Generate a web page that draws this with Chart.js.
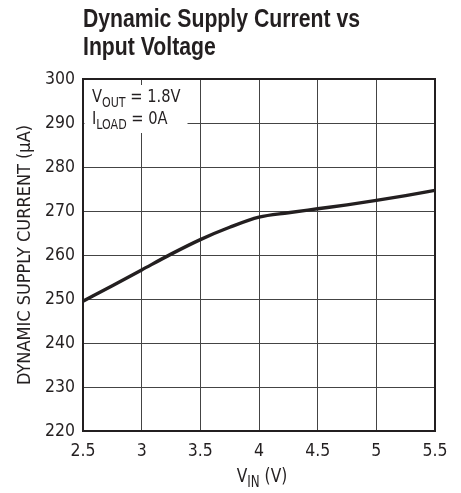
<!DOCTYPE html>
<html><head><meta charset="utf-8">
<script src="https://cdn.jsdelivr.net/npm/chart.js@4.4.1/dist/chart.umd.min.js"></script>
<style>html,body{margin:0;padding:0;background:#fff}#wrap{width:461px;height:493px;position:relative}</style>
</head><body><div id="wrap"><canvas id="c" width="461" height="493"></canvas></div>
<script>
const titleLines = ["Dynamic Supply Current vs", "Input Voltage"];
const xValues = [2.5, 2.75, 3.0, 3.25, 3.5, 3.75, 4.0, 4.25, 4.5, 4.75, 5.0, 5.25, 5.5];
const currentUA = [249.5, 253.0, 256.6, 260.2, 263.5, 266.3, 268.6, 269.6, 270.5, 271.4, 272.4, 273.5, 274.7];
const xTickLabels = ["2.5", "3", "3.5", "4", "4.5", "5", "5.5"];
const yTickLabels = ["220", "230", "240", "250", "260", "270", "280", "290", "300"];
const yTitle = "DYNAMIC SUPPLY CURRENT (\u03bcA)";
const noteLines = [["V", "OUT", " = 1.8V"], ["I", "LOAD", " = 0A"]];
const xTitleParts = ["V", "IN", " (V)"];

const FONT = '"DejaVu Sans Condensed", "Liberation Sans Narrow", "Roboto", sans-serif';
const TFONT = '"Liberation Sans", Arial, sans-serif';
const L = 83, R = 435, T = 79, B = 431, W = 461, H = 493;

function drawSub(ctx, x, y, parts, size, align, sxScale) {
  ctx.save();
  const big = size + 'px ' + FONT, small = Math.round(size * 0.75) + 'px ' + FONT;
  ctx.font = big; const w0 = ctx.measureText(parts[0]).width, w2 = ctx.measureText(parts[2]).width;
  ctx.font = small; const w1 = ctx.measureText(parts[1]).width;
  const tot = w0 + w1 + w2;
  let sx = align === 'center' ? x - tot * sxScale / 2 : x;
  ctx.translate(sx, y); ctx.scale(sxScale, 1);
  ctx.textAlign = 'left'; ctx.textBaseline = 'alphabetic'; ctx.fillStyle = '#231f20';
  ctx.font = big; ctx.fillText(parts[0], 0, 0);
  ctx.font = small; ctx.fillText(parts[1], w0, size * 0.25);
  ctx.font = big; ctx.fillText(parts[2], w0 + w1, 0);
  ctx.restore();
}

const extras = {
  id: 'extras',
  beforeDatasetsDraw(chart) {
    const ctx = chart.ctx;
    ctx.save();
    ctx.fillStyle = '#fff';
    ctx.fillRect(L + 1.5, T + 6, 103, 48);
    ctx.restore();
    drawSub(ctx, 92, 102, noteLines[0], 18.5, 'left', 0.88);
    drawSub(ctx, 92, 124, noteLines[1], 18.5, 'left', 0.88);
  },
  afterDraw(chart) {
    const ctx = chart.ctx;
    ctx.save();
    ctx.fillStyle = '#231f20';
    ctx.textAlign = 'left'; ctx.textBaseline = 'alphabetic';
    ctx.font = 'bold 26.5px ' + TFONT;
    const tw = ctx.measureText(titleLines[0]).width;
    const k = 277 / tw;
    ctx.save(); ctx.translate(83, 27); ctx.scale(k, 1); ctx.fillText(titleLines[0], 0, 0); ctx.restore();
    ctx.save(); ctx.translate(83, 55); ctx.scale(k, 1); ctx.fillText(titleLines[1], 0, 0); ctx.restore();
    ctx.restore();
    drawSub(ctx, (L + R) / 2 + 3, 482, xTitleParts, 19.5, 'center', 0.88);
  }
};

new Chart(document.getElementById('c'), {
  type: 'line',
  data: {
    datasets: [{
      data: xValues.map((x, i) => ({ x: x, y: currentUA[i] })),
      borderColor: '#231f20', borderWidth: 3.4, pointRadius: 0,
      cubicInterpolationMode: 'monotone', fill: false
    }]
  },
  options: {
    responsive: false, animation: false, devicePixelRatio: 1,
    layout: { padding: { top: T, right: W - R, bottom: 0, left: 0 } },
    plugins: { legend: { display: false }, tooltip: { enabled: false } },
    scales: {
      x: {
        type: 'linear', min: 2.5, max: 5.5,
        afterBuildTicks: s => { s.ticks = xTickLabels.map(v => ({ value: parseFloat(v) })); },
        ticks: { callback: (v, i) => xTickLabels[i], color: '#231f20', font: { family: FONT, size: 17.5 }, padding: 10, maxRotation: 0 },
        grid: { color: '#444', lineWidth: 1, drawTicks: false },
        border: { color: '#231f20', width: 2 },
        afterFit: s => { s.height = H - B; }
      },
      y: {
        min: 220, max: 300,
        afterBuildTicks: s => { s.ticks = yTickLabels.map(v => ({ value: parseFloat(v) })); },
        ticks: { callback: (v, i) => yTickLabels[i], color: '#231f20', font: { family: FONT, size: 17.5 }, padding: 8 },
        grid: { color: '#444', lineWidth: 1, drawTicks: false },
        border: { color: '#231f20', width: 2 },
        title: { display: true, text: yTitle, color: '#231f20', font: { family: FONT, size: 18 }, padding: { top: 15, bottom: 0 } },
        afterFit: s => { s.width = L; }
      }
    }
  },
  plugins: [extras, {
    id: 'frame',
    afterDatasetsDraw(chart) {
      const a = chart.chartArea, ctx = chart.ctx;
      ctx.save(); ctx.strokeStyle = '#231f20'; ctx.lineWidth = 2;
      ctx.strokeRect(a.left, a.top, a.right - a.left, a.bottom - a.top);
      ctx.restore();
    }
  }]
});
</script></body></html>
